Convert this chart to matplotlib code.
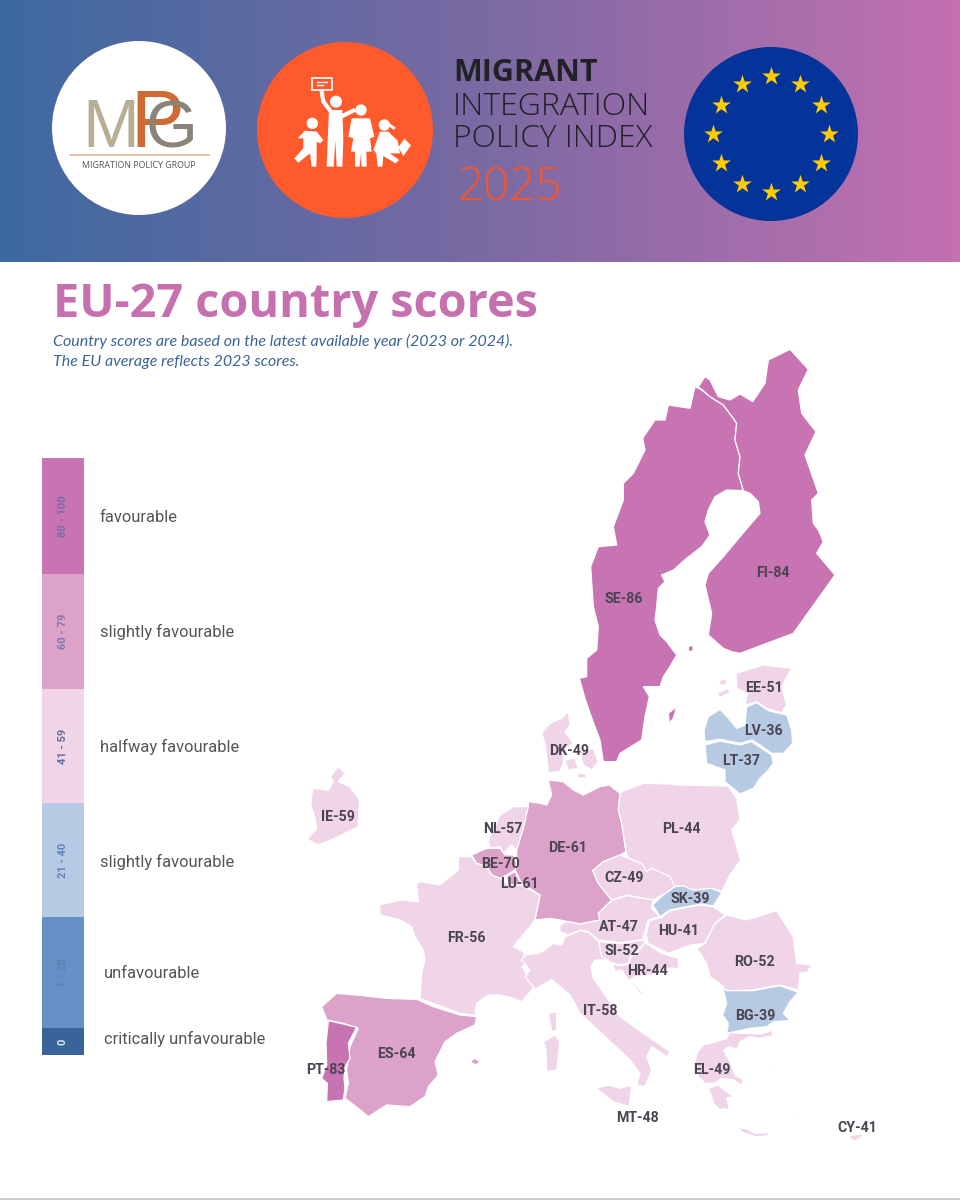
import numpy as np
import matplotlib
matplotlib.use("Agg")
import matplotlib.pyplot as plt
from matplotlib.colors import LinearSegmentedColormap
from matplotlib.patches import Circle, Polygon, Rectangle

# country labels and scores
codes = ["SE", "FI", "EE", "LV", "LT", "DK", "IE", "NL", "DE", "PL", "BE", "LU", "CZ", "SK",
         "AT", "HU", "SI", "HR", "FR", "RO", "BG", "IT", "ES", "PT", "EL", "MT", "CY"]
scores = [86, 84, 51, 36, 37, 49, 59, 57, 61, 44, 70, 61, 49, 39,
          47, 41, 52, 44, 56, 52, 39, 58, 64, 83, 49, 48, 41]
label_x = [624, 773, 764, 763, 741, 569, 338, 503, 568, 681, 500, 519, 624, 690,
           619, 679, 622, 647, 466, 754, 755, 600, 396, 326, 712, 637, 857]
label_y = [599, 573, 688, 731, 761, 751, 817, 829, 848, 829, 864, 884, 878, 899,
           927, 931, 951, 971, 938, 962, 1016, 1011, 1054, 1070, 1070, 1118, 1128]

# legend
band_edges = [458, 574, 689, 803, 917, 1028, 1055]
band_ranges = ["80 - 100", "60 - 79", "41 - 59", "21 - 40", "1 - 20", "0"]
band_colors = ["#C873B2", "#DDA2CA", "#F0D5E9", "#B6CAE4", "#6590C5", "#3A6499"]
band_text_colors = ["#7C6AA8", "#7C78B2", "#5F6FA5", "#5F82B5", "#5A82B5", "#DCE4EF"]
band_names = ["favourable", "slightly favourable", "halfway favourable",
              "slightly favourable", "unfavourable", "critically unfavourable"]
band_name_x = [100, 100, 100, 100, 104, 104]
band_name_y = [517, 632, 747, 862, 973, 1039]

# outlines, in 3x crop coordinates
N = (560, 340)
W = (300, 750)
S = (520, 780)
D = (530, 700)
G = (680, 1020)
P = (255, 40)
outlines = {
    "SE": [(N, [(405,140),(425,150),(450,170),(490,195),(520,235),(530,250),(525,300),(540,350),(535,400),(550,452),(500,450),(465,470),(445,510),(435,545),(450,585),(425,620),(380,655),(340,690),(305,705),(315,725),(295,745),(290,800),(285,840),(300,885),(320,905),(350,945),(330,980),(310,1010),(300,1040),(250,1040),(268,1070),(255,1130),(245,1200),(180,1240),(170,1265),(130,1265),(120,1200),(90,1120),(75,1075),(58,1015),(80,1010),(80,955),(110,930),(115,860),(100,800),(92,680),(115,620),(170,615),(160,560),(190,480),(190,430),(220,400),(255,330),(248,295),(285,240),(315,240),(325,195),(390,205)]),
           (N, [(325,1120),(350,1100),(340,1135),(328,1150)])],
    "FI": [(N, [(415,140),(435,110),(450,120),(475,170),(510,180),(540,162),(578,185),(615,130),(625,60),(690,28),(745,88),(715,150),(725,220),(768,275),(735,345),(775,460),(755,480),(760,550),(775,570),(790,605),(770,640),(825,705),(700,880),(620,910),(540,940),(515,935),(490,925),(445,885),(455,820),(435,735),(445,700),(490,650),(540,590),(600,520),(595,485),(570,460),(550,452),(535,400),(540,350),(525,300),(530,250),(520,235),(490,195),(450,170)]),
           (N, [(385,920),(398,915),(400,932),(385,935)])],
    "EE": [(N, [(528,1000),(610,975),(695,985),(665,1040),(680,1095),(665,1118),(620,1105),(590,1085),(555,1095),(562,1060),(530,1045)]),
           (N, [(475,1025),(495,1015),(503,1030),(485,1038)]),
           (N, [(470,1060),(505,1045),(510,1058),(480,1072)])],
    "LV": [(N, [(435,1205),(432,1170),(445,1130),(480,1108),(510,1140),(530,1165),(555,1155),(560,1100),(590,1088),(625,1112),(680,1125),(695,1170),(698,1210),(670,1240),(635,1240),(600,1215),(575,1200),(540,1210),(480,1198)])],
    "LT": [(N, [(435,1215),(480,1203),(540,1215),(575,1205),(600,1222),(635,1245),(640,1270),(625,1290),(600,1315),(580,1345),(540,1362),(495,1325),(495,1290),(440,1270)])],
    "DK": [(D, [(35,100),(60,70),(95,55),(115,35),(120,75),(105,95),(130,130),(100,150),(100,190),(90,215),(55,218),(50,170),(45,130)]),
           (D, [(105,180),(135,175),(145,205),(115,210)]),
           (D, [(150,155),(190,145),(205,185),(185,210),(160,195)]),
           (D, [(140,222),(165,220),(170,232),(145,235)])],
    "IE": [(W, [(22,268),(50,235),(45,205),(32,165),(38,115),(85,120),(100,95),(92,80),(115,50),(135,70),(115,95),(150,110),(178,150),(175,230),(110,262),(55,285)])],
    "NL": [(W, [(565,270),(600,195),(640,170),(685,170),(670,235),(650,300),(635,285),(610,310),(600,290),(570,295)])],
    "DE": [(S, [(25,65),(60,70),(80,75),(95,45),(85,0),(130,5),(160,30),(190,45),(240,20),(268,15),(300,40),(295,90),(305,130),(318,215),(300,225),(250,245),(218,272),(235,310),(275,360),(250,385),(235,400),(240,420),(180,432),(120,420),(90,415),(45,420),(60,345),(5,310),(-15,270),(-10,250),(-10,210),(10,145),(25,80)])],
    "PL": [(S, [(300,45),(305,35),(370,10),(450,12),(480,15),(625,18),(650,55),(660,120),(635,150),(650,200),(662,240),(630,285),(605,335),(575,325),(520,330),(490,320),(465,320),(450,290),(395,265),(380,275),(365,250),(325,235),(318,215),(305,130),(295,90)])],
    "BE": [(W, [(515,315),(560,295),(600,295),(615,315),(640,315),(650,340),(645,360),(620,375),(600,385),(575,375),(560,350),(530,340)])],
    "LU": [(W, [(620,378),(645,365),(662,398),(640,415),(625,405)])],
    "CZ": [(S, [(218,272),(250,245),(300,225),(325,235),(365,250),(380,275),(395,265),(450,290),(465,320),(435,340),(400,360),(370,355),(320,345),(275,360),(235,310)])],
    "SK": [(S, [(398,375),(430,345),(465,320),(490,318),(520,330),(575,325),(605,338),(580,378),(545,372),(500,380),(450,390),(420,410)])],
    "AT": [(S, [(120,435),(140,425),(180,432),(240,420),(235,400),(275,362),(320,347),(370,355),(400,360),(395,385),(420,410),(385,420),(367,478),(305,488),(235,480),(205,455),(180,450),(145,465),(120,455)])],
    "HU": [(S, [(425,412),(450,392),(500,382),(545,375),(580,380),(615,405),(585,430),(555,490),(510,495),(445,520),(385,490),(378,465),(388,422)])],
    "SI": [(S, [(237,485),(305,490),(367,480),(375,488),(355,510),(330,530),(327,550),(295,555),(270,545),(245,530)])],
    "HR": [(S, [(375,488),(425,520),(475,535),(477,565),(440,565),(395,585),(345,590),(330,600),(370,640),(410,665),(360,640),(325,600),(305,570),(285,575),(277,550),(295,557),(327,552),(333,532),(357,512)])],
    "FR": [(W, [(238,465),(300,450),(355,455),(350,400),(365,395),(420,405),(475,360),(475,320),(515,320),(530,340),(560,350),(575,375),(600,385),(625,405),(665,405),(720,435),(705,510),(690,530),(640,590),(670,605),(680,640),(665,650),(690,690),(700,715),(665,755),(640,745),(600,735),(565,735),(530,760),(525,795),(480,790),(400,760),(360,745),(365,670),(375,630),(370,600),(345,560),(335,530),(300,510),(240,495)]),
           (W, [(745,790),(770,785),(770,840),(755,845)])],
    "RO": [(S, [(530,505),(555,490),(585,430),(620,405),(680,420),(770,392),(820,470),(830,550),(875,555),(860,578),(840,580),(835,630),(780,615),(700,630),(620,632),(605,615),(570,590),(560,550)])],
    "BG": [(S, [(608,618),(620,632),(700,632),(780,617),(835,637),(810,665),(790,700),(810,722),(760,725),(740,740),(690,745),(620,760),(625,730),(608,705),(620,670)])],
    "IT": [(S, [(15,525),(55,520),(75,510),(100,490),(125,495),(135,470),(150,465),(180,452),(205,457),(235,482),(245,530),(265,540),(225,540),(213,560),(220,595),(255,645),(300,710),(370,760),(450,815),(440,830),(395,800),(380,830),(395,870),(375,920),(350,915),(360,880),(330,840),(250,765),(180,700),(150,645),(95,598),(45,628),(15,590),(30,570),(5,540)]),
           (S, [(228,925),(265,915),(300,925),(335,915),(328,980),(280,965)]),
           (W, [(730,875),(765,855),(780,875),(770,960),(740,965),(738,900)])],
    "ES": [(W, [(65,770),(110,730),(170,735),(260,745),(350,748),(400,770),(480,795),(530,800),(525,825),(470,850),(435,875),(405,935),(415,975),(385,1010),(375,1040),(330,1070),(260,1065),(205,1100),(175,1075),(135,1045),(145,1000),(140,960),(150,890),(175,835),(130,820),(80,810),(75,795)]),
           (W, [(510,935),(525,925),(540,935),(528,945)])],
    "PT": [(W, [(85,812),(130,822),(170,832),(145,880),(150,925),(135,950),(132,985),(135,1015),(130,1050),(80,1055),(82,1000),(65,985),(80,945),(78,880)])],
    "EL": [(G, [(148,38),(190,40),(240,42),(280,30),(275,48),(240,55),(210,50),(180,65),(170,90),(150,80),(130,90),(150,125),(165,165),(190,180),(185,195),(160,180),(125,175),(105,190),(75,190),(55,170),(45,130),(50,100),(70,75),(110,65),(140,55)]),
           (G, [(85,205),(115,195),(140,215),(160,230),(140,235),(148,270),(130,265),(120,270),(100,250),(95,230)]),
           (G, [(170,322),(195,325),(225,340),(268,338),(262,348),(225,350),(190,338)]),
           (G, [(265,140),(275,145),(272,155)]),
           (G, [(330,292),(340,285),(338,295)]),
           (G, [(255,180),(262,185),(258,190)])],
    "MT": [(S, [(340,990),(346,990),(346,995),(340,995)])],
    "CY": [(S, [(985,1068),(1030,1060),(1020,1078),(1000,1082)])],
}

# pictogram shapes, same crop coordinates
picto_heads = [(243, 185, 18), (318, 210, 17), (172, 250, 17), (388, 255, 17)]
picto_shapes = [
    [(222,210),(262,210),(265,300),(262,380),(245,380),(241,300),(236,380),(215,380),(218,300)],
    [(290,235),(345,235),(358,290),(345,295),(350,335),(334,335),(335,380),(320,380),(318,340),(314,380),(300,380),(300,335),(288,335),(295,295),(280,290)],
    [(150,272),(185,275),(205,300),(195,310),(185,305),(185,345),(184,380),(170,380),(165,340),(130,368),(118,355),(145,325),(145,295),(128,295)],
    [(375,275),(400,275),(428,302),(435,340),(405,340),(432,360),(422,370),(385,348),(382,380),(368,380),(364,340),(355,330)],
    [(430,322),(448,296),(468,316),(445,348)],
]


def score_color(score):
    if score >= 80:
        return band_colors[0]
    if score >= 60:
        return band_colors[1]
    if score >= 41:
        return band_colors[2]
    if score >= 21:
        return band_colors[3]
    if score >= 1:
        return band_colors[4]
    return band_colors[5]


def to_page(origin, pts):
    return [(origin[0] + px / 3, origin[1] + py / 3) for px, py in pts]


fig = plt.figure(figsize=(9.6, 12), dpi=100)
ax = fig.add_axes([0, 0, 1, 1])

# banner
banner = LinearSegmentedColormap.from_list("banner", ["#3C69A0", "#7A6AA3", "#C470B1"])
ax.imshow(np.linspace(0, 1, 256).reshape(1, -1), cmap=banner, extent=(0, 960, 262, 0), aspect="auto")
ax.set_xlim(0, 960)
ax.set_ylim(1200, 0)
ax.axis("off")

# MPG logo
ax.add_patch(Circle((139, 128), 87, color="white", lw=0))
ax.text(82, 147, "M", fontsize=49, family="Liberation Sans", color="#B5AF96", va="baseline", ha="left")
ax.text(130, 147, "P", fontsize=58, family="Liberation Sans", color="#CF6A32", va="baseline", ha="left")
ax.text(146, 147, "G", fontsize=48, family="Liberation Sans", color="#8A8378", va="baseline", ha="left")
ax.plot([70, 209], [155, 155], color="#E3B594", lw=1.2)
ax.text(139, 165, "MIGRATION POLICY GROUP", fontsize=6.4, family="Open Sans", color="#555555", ha="center", va="center")

# family pictogram
ax.add_patch(Circle((345, 130), 88, color="#FF5A2C", lw=0))
for hx, hy, hr in picto_heads:
    cx, cy = to_page(P, [(hx, hy)])[0]
    ax.add_patch(Circle((cx, cy), hr / 3, color="white", lw=0))
for shape in picto_shapes:
    ax.add_patch(Polygon(to_page(P, shape), color="white", lw=0))
sign = to_page(P, [(172, 115), (232, 115), (232, 150), (172, 150)])
ax.add_patch(Polygon(sign, fc="none", ec="white", lw=1.2))
for line in ([(185, 125), (215, 125)], [(185, 136), (205, 136)]):
    ax.plot(*zip(*to_page(P, line)), color="white", lw=1)
ax.plot(*zip(*to_page(P, [(200, 155), (205, 185), (228, 215)])), color="white", lw=3)
ax.plot(*zip(*to_page(P, [(262, 228), (295, 212)])), color="white", lw=3)
ax.plot(*zip(*to_page(P, [(404, 255), (416, 264)])), color="white", lw=2)

# index name
ax.text(453, 73, "MIGRANT", fontsize=22, family="Open Sans", weight="bold", color="#222226", va="center", ha="left")
ax.text(453, 107, "INTEGRATION", fontsize=23, family="Open Sans", weight="light", color="#222226", va="center", ha="left")
ax.text(453, 139, "POLICY INDEX", fontsize=22.8, family="Open Sans", weight="light", color="#222226", va="center", ha="left")
ax.text(458, 188, "2025", fontsize=33, family="Open Sans", weight="light", color="#F2572B", va="center", ha="left")

# EU flag
ax.add_patch(Circle((771, 134), 87, color="#04339A", lw=0))
angles = np.deg2rad(np.arange(0, 360, 30))
ax.scatter(771 + 58 * np.cos(angles), 134 + 58 * np.sin(angles), marker="*", s=200, color="#FFCC00", lw=0, zorder=3)

# heading
ax.text(53, 305, "EU-27 country scores", fontsize=33.7, family="Open Sans", weight="bold", color="#C670B0", va="center", ha="left")
ax.text(53, 341, "Country scores are based on the latest available year (2023 or 2024).", fontsize=11.5, family="Lato", style="italic", color="#3A6499", va="center", ha="left")
ax.text(53, 362, "The EU average reflects 2023 scores.", fontsize=11.5, family="Lato", style="italic", color="#3A6499", va="center", ha="left")

# legend bar
for i, name in enumerate(band_names):
    top, bottom = band_edges[i], band_edges[i + 1]
    ax.add_patch(Rectangle((42, top), 42, bottom - top, fc=band_colors[i], lw=0))
    ax.text(63, (top + bottom) / 2, band_ranges[i], rotation=90, fontsize=8, family="Roboto", weight="bold",
            color=band_text_colors[i], ha="center", va="center")
    ax.text(band_name_x[i], band_name_y[i], name, fontsize=11.9, family="Roboto", color="#555555", ha="left", va="center")

# map
for code, score in zip(codes, scores):
    for origin, pts in outlines[code]:
        ax.add_patch(Polygon(to_page(origin, pts), closed=True, fc=score_color(score), ec="white", lw=0.9, joinstyle="round"))

for code, score, lx, ly in zip(codes, scores, label_x, label_y):
    ax.text(lx, ly, f"{code}-{score}", fontsize=10.2, family="Roboto", weight="bold", color="#4A4550",
            ha="center", va="center", zorder=5)

# thin rule at the foot
ax.plot([0, 960], [1198.5, 1198.5], color="#C9D0CF", lw=1.5)

fig.savefig("out.png", dpi=100)
